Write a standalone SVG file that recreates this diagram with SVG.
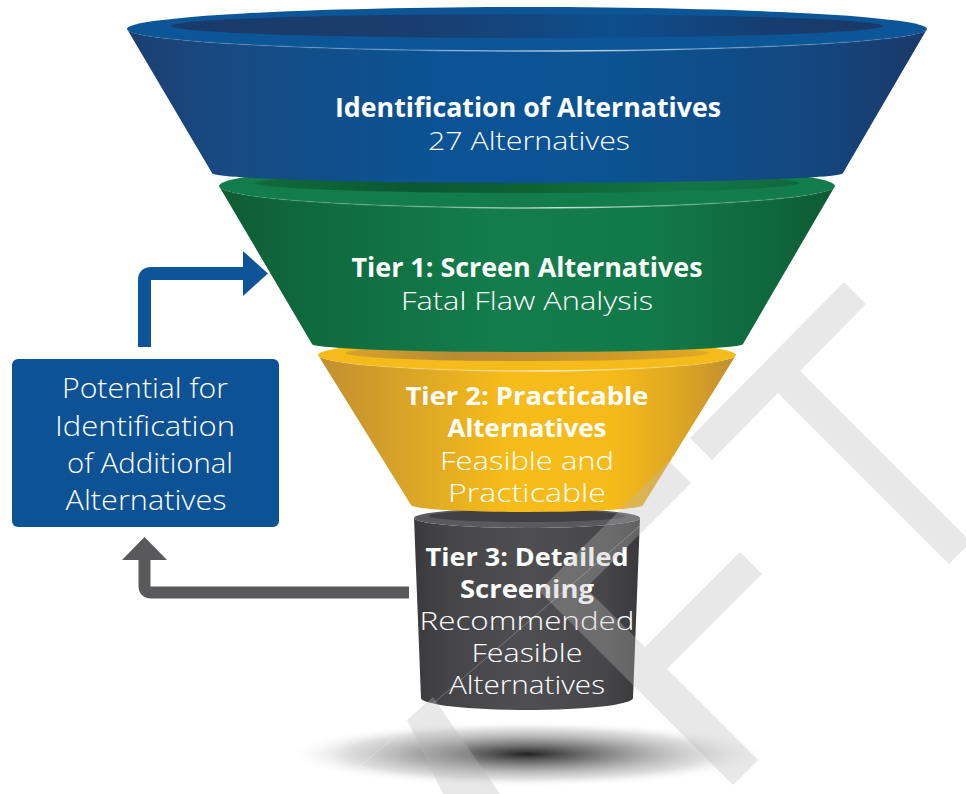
<svg xmlns="http://www.w3.org/2000/svg" width="966" height="794" viewBox="0 0 966 794">
  <defs>
    <style>
      .bold { font-family: "Open Sans", "Liberation Sans", sans-serif; font-weight: 700; fill: #ffffff; text-anchor: middle; }
      .light { font-family: "Open Sans", "Liberation Sans", sans-serif; font-weight: 300; fill: #ffffff; text-anchor: middle; }
      .wm { fill: #bababa; }
    </style>

    <!-- tier side shading -->
    <linearGradient id="blueSide" gradientUnits="userSpaceOnUse" x1="127" y1="0" x2="927" y2="0">
      <stop offset="0" stop-color="#1d3e70"/>
      <stop offset="0.12" stop-color="#174a82"/>
      <stop offset="0.38" stop-color="#0b5394"/>
      <stop offset="0.6" stop-color="#0b5393"/>
      <stop offset="0.85" stop-color="#134780"/>
      <stop offset="1" stop-color="#1b3969"/>
    </linearGradient>
    <linearGradient id="blueInner" gradientUnits="userSpaceOnUse" x1="171" y1="0" x2="883" y2="0">
      <stop offset="0" stop-color="#193a6b"/>
      <stop offset="0.35" stop-color="#1a3d6f"/>
      <stop offset="0.62" stop-color="#0d4e8d"/>
      <stop offset="0.85" stop-color="#173c6e"/>
      <stop offset="1" stop-color="#1a3967"/>
    </linearGradient>

    <linearGradient id="greenSide" gradientUnits="userSpaceOnUse" x1="219" y1="0" x2="835" y2="0">
      <stop offset="0" stop-color="#0f5c34"/>
      <stop offset="0.15" stop-color="#0f6a3d"/>
      <stop offset="0.45" stop-color="#137d4b"/>
      <stop offset="0.7" stop-color="#127a48"/>
      <stop offset="0.9" stop-color="#0f673c"/>
      <stop offset="1" stop-color="#0e5a33"/>
    </linearGradient>
    <linearGradient id="greenInner" gradientUnits="userSpaceOnUse" x1="255" y1="0" x2="799" y2="0">
      <stop offset="0" stop-color="#0f6b3b"/>
      <stop offset="0.3" stop-color="#0c5730"/>
      <stop offset="0.55" stop-color="#0e6535"/>
      <stop offset="0.8" stop-color="#137646"/>
      <stop offset="1" stop-color="#0f693b"/>
    </linearGradient>

    <linearGradient id="yellowSide" gradientUnits="userSpaceOnUse" x1="318" y1="0" x2="736" y2="0">
      <stop offset="0" stop-color="#c18f30"/>
      <stop offset="0.2" stop-color="#d8a327"/>
      <stop offset="0.45" stop-color="#f6bc19"/>
      <stop offset="0.7" stop-color="#f6bb1a"/>
      <stop offset="0.88" stop-color="#dba425"/>
      <stop offset="1" stop-color="#c08e30"/>
    </linearGradient>
    <linearGradient id="yellowInner" gradientUnits="userSpaceOnUse" x1="345" y1="0" x2="709" y2="0">
      <stop offset="0" stop-color="#d9a42a"/>
      <stop offset="0.3" stop-color="#b88a34"/>
      <stop offset="0.6" stop-color="#c5942d"/>
      <stop offset="1" stop-color="#e2a922"/>
    </linearGradient>

    <linearGradient id="graySide" gradientUnits="userSpaceOnUse" x1="414" y1="0" x2="640" y2="0">
      <stop offset="0" stop-color="#3a3a3c"/>
      <stop offset="0.15" stop-color="#454547"/>
      <stop offset="0.5" stop-color="#4f4f51"/>
      <stop offset="0.85" stop-color="#464648"/>
      <stop offset="1" stop-color="#39393b"/>
    </linearGradient>

    <!-- thin light line on the front lip of each rim -->
    <linearGradient id="lip" gradientUnits="objectBoundingBox" x1="0" y1="0" x2="1" y2="0">
      <stop offset="0" stop-color="#ffffff" stop-opacity="0"/>
      <stop offset="0.35" stop-color="#ffffff" stop-opacity="0.25"/>
      <stop offset="0.55" stop-color="#ffffff" stop-opacity="0.7"/>
      <stop offset="0.75" stop-color="#ffffff" stop-opacity="0.25"/>
      <stop offset="1" stop-color="#ffffff" stop-opacity="0"/>
    </linearGradient>

    <radialGradient id="shadow" cx="0.5" cy="0.5" r="0.5">
      <stop offset="0" stop-color="#222222"/>
      <stop offset="0.1" stop-color="#444444"/>
      <stop offset="0.4" stop-color="#858585" stop-opacity="0.85"/>
      <stop offset="0.75" stop-color="#bdbdbd" stop-opacity="0.5"/>
      <stop offset="1" stop-color="#ffffff" stop-opacity="0"/>
    </radialGradient>
  </defs>

  <rect width="966" height="794" fill="#ffffff"/>

  <!-- floor shadow under the funnel -->
  <ellipse cx="527" cy="754" rx="240" ry="33" fill="url(#shadow)"/>

  <!-- Tier 3 -->
  <g id="tier3">
    <path d="M414,518 L421,698 A106,12 0 0 0 633,698 L640,518 A113,10 0 0 1 414,518 Z" fill="url(#graySide)"/>
    <ellipse cx="527" cy="518" rx="113" ry="10" fill="#5a5a5c"/>
    <ellipse cx="527" cy="516" rx="98" ry="6" fill="#414143"/>
    <text class="bold" x="527" y="566" font-size="25" textLength="203" lengthAdjust="spacingAndGlyphs">Tier 3: Detailed</text>
    <text class="bold" x="527" y="598" font-size="25" textLength="134" lengthAdjust="spacingAndGlyphs">Screening</text>
    <text class="light" x="527" y="630" font-size="25" textLength="215" lengthAdjust="spacingAndGlyphs">Recommended</text>
    <text class="light" x="527" y="662" font-size="25" textLength="111" lengthAdjust="spacingAndGlyphs">Feasible</text>
    <text class="light" x="527" y="694" font-size="25" textLength="156" lengthAdjust="spacingAndGlyphs">Alternatives</text>
  </g>

  <!-- Tier 2 -->
  <g id="tier2">
    <path d="M318,355 L411,505 A116,7 0 0 0 643,505 L736,355 A209,16 0 0 1 318,355 Z" fill="url(#yellowSide)"/>
    <ellipse cx="527" cy="355" rx="209" ry="16" fill="#f5bb1b"/>
    <ellipse cx="527" cy="353" rx="182" ry="8" fill="url(#yellowInner)"/>
    <path d="M318,355 A209,16 0 0 0 736,355" fill="none" stroke="url(#lip)" stroke-width="1.5"/>
    <text class="bold" x="527" y="405" font-size="25" textLength="243" lengthAdjust="spacingAndGlyphs">Tier 2: Practicable</text>
    <text class="bold" x="527" y="437" font-size="25" textLength="159" lengthAdjust="spacingAndGlyphs">Alternatives</text>
    <text class="light" x="527" y="470" font-size="25" textLength="174" lengthAdjust="spacingAndGlyphs">Feasible and</text>
    <text class="light" x="527" y="502" font-size="25" textLength="158" lengthAdjust="spacingAndGlyphs">Practicable</text>
  </g>

  <!-- Tier 1 -->
  <g id="tier1">
    <path d="M219,186 L312,344 A215.5,8 0 0 0 743,344 L835,186 A308,22 0 0 1 219,186 Z" fill="url(#greenSide)"/>
    <ellipse cx="527" cy="186" rx="308" ry="22" fill="#127c4a"/>
    <ellipse cx="527" cy="183" rx="272" ry="10" fill="url(#greenInner)"/>
    <path d="M219,186 A308,22 0 0 0 835,186" fill="none" stroke="url(#lip)" stroke-width="1.5"/>
    <text class="bold" x="527" y="277" font-size="26" textLength="351" lengthAdjust="spacingAndGlyphs">Tier 1: Screen Alternatives</text>
    <text class="light" x="527" y="310" font-size="26" textLength="252" lengthAdjust="spacingAndGlyphs">Fatal Flaw Analysis</text>
  </g>

  <!-- Identification stage -->
  <g id="identification">
    <path d="M127,29 L212,173 A315.5,10 0 0 0 843,173 L927,29 A400,22 0 0 1 127,29 Z" fill="url(#blueSide)"/>
    <ellipse cx="527" cy="29" rx="400" ry="22" fill="#0c5597"/>
    <ellipse cx="527" cy="26" rx="356" ry="12" fill="url(#blueInner)"/>
    <path d="M127,29 A400,22 0 0 0 927,29" fill="none" stroke="url(#lip)" stroke-width="1.5"/>
    <text class="bold" x="528" y="117" font-size="26" textLength="386" lengthAdjust="spacingAndGlyphs">Identification of Alternatives</text>
    <text class="light" x="529" y="150" font-size="26" textLength="202" lengthAdjust="spacingAndGlyphs">27 Alternatives</text>
  </g>

  <!-- feedback box -->
  <g id="additional">
    <rect x="12" y="359" width="267" height="168" rx="6" fill="#0c5294"/>
    <text class="light" x="145" y="398" font-size="27" textLength="166" lengthAdjust="spacingAndGlyphs">Potential for</text>
    <text class="light" x="145" y="436" font-size="27" textLength="180" lengthAdjust="spacingAndGlyphs">Identification</text>
    <text class="light" x="150" y="473" font-size="27" textLength="166" lengthAdjust="spacingAndGlyphs">of Additional</text>
    <text class="light" x="146" y="510" font-size="27" textLength="161" lengthAdjust="spacingAndGlyphs">Alternatives</text>
  </g>

  <!-- connectors -->
  <g id="connectors">
    <path d="M144.5,347 L144.5,280 Q144.5,273.5 151,273.5 L245,273.5" fill="none" stroke="#0d5597" stroke-width="13"/>
    <polygon points="243,251 268,273.5 243,296" fill="#0d5597"/>
    <path d="M409,592.5 L151,592.5 Q144.5,592.5 144.5,586 L144.5,559" fill="none" stroke="#59595b" stroke-width="12"/>
    <polygon points="122,560 144.5,537 167,560" fill="#59595b"/>
  </g>

  <!-- DRAFT watermark, set on the diagonal; the group opacity keeps joins even -->
  <g id="watermark" opacity="0.33">
    <!-- A (apex only, the rest runs off the page) -->
    <polygon class="wm" points="407,720 433,697 500,794 443,794"/>
    <!-- F -->
    <polygon class="wm" points="539,591 669,461 691,483 586,588 645,647 740,552 762,574 667,669 758,760 733,785"/>
    <!-- T -->
    <polygon class="wm" points="690,438 844,282 866,304 800,371 971,542 949,564 778,393 712,460"/>
  </g>
  <!-- hairline seam of the watermark across the funnel -->
  <line x1="350" y1="775" x2="662" y2="507" stroke="#ffffff" stroke-opacity="0.25" stroke-width="1"/>
</svg>
